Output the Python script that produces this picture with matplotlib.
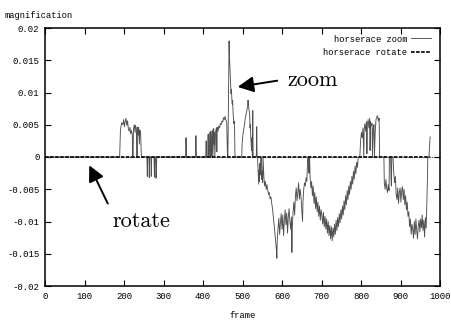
import matplotlib
matplotlib.use('Agg')
import matplotlib.pyplot as plt

# horserace zoom: (frame, magnification); zero stretches only need their ends
frame = [0, 188,
         189, 191, 194, 197, 199, 201, 203, 205, 207, 209, 211, 213, 215, 217, 219, 221, 222, 223,
         224, 226, 228, 229, 231, 232, 233, 234, 236, 237, 239, 240, 242, 244,
         258, 259, 260, 263, 264, 265, 268, 269, 270, 276, 277, 278, 280, 281, 282, 283,
         356, 357, 358, 359, 381, 382, 383, 384,
         407, 408, 409, 412, 413, 414, 416, 417, 419, 420, 421, 422, 424, 425, 427, 428, 429, 430,
         432, 434, 435, 436, 438, 440, 442, 444, 446, 448, 450, 452, 454, 456, 458, 460, 462, 463,
         464, 466, 467, 468, 469, 470, 471, 472, 473, 474, 475, 476, 477, 478, 479, 480, 481,
         498, 499, 501, 503, 505, 507, 509, 511, 513, 514, 516, 518, 519, 520, 521, 523, 524, 525,
         526, 527, 535, 536, 537,
         538, 540, 541, 542, 543, 544, 545, 546, 548, 549, 550, 551, 552, 554, 556, 558, 560, 562,
         564, 566, 568, 570, 572, 574, 576, 578, 580, 582, 584, 586, 587, 588, 590, 592, 594, 596,
         598, 600, 602, 604, 606, 608, 610, 612, 614, 616, 618, 620, 622, 624, 625, 626, 628, 630,
         632, 634, 636, 638, 640, 642, 644, 646, 648, 650, 652, 653, 655, 657, 659, 661, 663, 664,
         665, 667, 668, 669, 670, 671, 673, 675, 677, 679, 681, 683, 685, 687, 689, 691, 693, 695,
         697, 699, 701, 703, 705, 707, 709, 711, 713, 715, 717, 719, 721, 723, 725, 727, 729, 731,
         733, 735, 737, 739, 741, 743, 745, 747, 749, 751, 753, 755, 757, 759, 761, 763, 765, 767,
         769, 771, 773, 775, 777, 779, 781, 783, 785, 787, 789, 791, 793,
         797, 799, 801, 803, 805, 807, 808, 810, 812, 814, 815, 816, 818, 820, 822, 823, 824, 826,
         828, 829, 831, 833, 834, 836, 838, 840, 842, 844, 846, 847,
         858, 859, 861, 863, 865, 867, 869, 871, 872, 875, 876, 877, 878,
         881, 883, 885, 887, 889, 891, 893, 895, 897, 899, 901, 903, 905, 907, 909, 911, 913, 915,
         917, 919, 921, 923, 925, 927, 929, 931, 933, 935, 937, 939, 941, 943, 945, 947, 949, 951,
         953, 955, 957, 959, 961, 963, 965, 966, 968, 969, 972, 975]
zoom = [0, 0,
        0, 0.0042, 0.0053, 0.0050, 0.0058, 0.0047, 0.0055, 0.0060, 0.0049, 0.0056, 0.0044, 0.0040, 0.0046, 0.0036, 0.0041, 0.0034, 0, 0,
        0.0044, 0.0050, 0.0038, 0.0049, 0.0045, 0.0030, 0, 0.0046, 0.0034, 0.0046, 0.0020, 0.0042, 0.0038, 0,
        0, -0.0030, 0, 0, -0.0032, 0, 0, -0.0030, 0, 0, -0.0031, 0, 0, -0.0033, -0.0020, 0,
        0, 0.0030, 0.0005, 0, 0, 0.0033, 0.0008, 0,
        0, 0.0025, 0, 0, 0.0035, 0, 0.0038, 0, 0, 0.0040, 0.0012, 0, 0.0042, 0, 0.0044, 0.0020, 0.0038, 0,
        0.0040, 0.0045, 0.0008, 0.0046, 0.0040, 0.0048, 0.0045, 0.0052, 0.0050, 0.0056, 0.0054, 0.0061, 0.0058, 0.0063, 0.0057, 0.0054, 0, 0,
        0.0060, 0.0180, 0.0155, 0.0140, 0.0125, 0.0110, 0.0098, 0.0105, 0.0090, 0.0082, 0.0088, 0.0070, 0.0060, 0.0052, 0.0055, 0.0040, 0,
        0, 0.0020, 0.0035, 0.0042, 0.0050, 0.0060, 0.0066, 0.0072, 0.0080, 0.0088, 0.0075, 0.0068, 0.0045, 0.0050, 0.0030, 0.0010, 0.0030, 0,
        0.0072, 0, 0, 0.0047, 0,
        0, -0.0030, -0.0042, -0.0020, -0.0038, -0.0010, -0.0028, 0, 0, -0.0035, -0.0022, -0.0040, 0, -0.0030, -0.0045, -0.0038, -0.0050, -0.0043,
        -0.0052, -0.0058, -0.0055, -0.0065, -0.0062, -0.0072, -0.0080, -0.0092, -0.0105, -0.0118, -0.0130, -0.0145, -0.0157, -0.0128, -0.0110, -0.0095, -0.0120, -0.0102,
        -0.0088, -0.0112, -0.0090, -0.0122, -0.0098, -0.0082, -0.0105, -0.0087, -0.0118, -0.0092, -0.0080, -0.0100, -0.0112, -0.0093, -0.0148, -0.0110, -0.0085, -0.0070,
        -0.0090, -0.0060, -0.0048, -0.0068, -0.0055, -0.0040, -0.0065, -0.0050, -0.0062, -0.0080, -0.0100, -0.0070, -0.0050, -0.0040, -0.0045, -0.0032, -0.0038, -0.0020,
        0, 0, -0.0025, 0, 0, -0.0030, -0.0048, -0.0038, -0.0060, -0.0045, -0.0072, -0.0055, -0.0080, -0.0062, -0.0085, -0.0070, -0.0092, -0.0076,
        -0.0098, -0.0082, -0.0090, -0.0104, -0.0086, -0.0108, -0.0092, -0.0112, -0.0096, -0.0118, -0.0100, -0.0122, -0.0106, -0.0127, -0.0108, -0.0130, -0.0110, -0.0124,
        -0.0104, -0.0120, -0.0098, -0.0114, -0.0094, -0.0108, -0.0088, -0.0102, -0.0082, -0.0096, -0.0076, -0.0090, -0.0068, -0.0082, -0.0060, -0.0074, -0.0052, -0.0066,
        -0.0045, -0.0058, -0.0038, -0.0050, -0.0030, -0.0042, -0.0022, -0.0034, -0.0014, -0.0026, -0.0008, -0.0016, 0,
        0, 0.0025, 0.0038, 0.0030, 0.0045, 0, 0.0042, 0.0052, 0.0040, 0.0055, 0.0005, 0.0050, 0.0058, 0.0045, 0.0060, 0.0010, 0.0055, 0.0048,
        0.0052, 0, 0.0045, 0.0050, 0, 0.0040, 0.0058, 0.0062, 0.0064, 0.0056, 0.0060, 0,
        0, -0.0040, -0.0050, -0.0035, -0.0048, -0.0055, -0.0043, -0.0052, 0, 0, -0.0035, -0.0045, 0,
        0, -0.0025, -0.0040, -0.0030, -0.0058, -0.0066, -0.0048, -0.0072, -0.0055, -0.0048, -0.0070, -0.0052, -0.0046, -0.0066, -0.0050, -0.0074, -0.0060, -0.0082,
        -0.0070, -0.0092, -0.0085, -0.0108, -0.0096, -0.0120, -0.0104, -0.0112, -0.0126, -0.0100, -0.0120, -0.0096, -0.0114, -0.0127, -0.0106, -0.0098, -0.0116, -0.0096,
        -0.0110, -0.0090, -0.0114, -0.0098, -0.0124, -0.0094, -0.0110, -0.0086, -0.0040, 0, 0, 0.0031]

# horserace rotate stays at zero
rot_frame = [0, 975]
rotate = [0, 0]

xticks = [0, 100, 200, 300, 400, 500, 600, 700, 800, 900, 1000]
yticks = [0.02, 0.015, 0.01, 0.005, 0, -0.005, -0.01, -0.015, -0.02]
ylabels = ['0.02', '0.015', '0.01', '0.005', '0', '-0.005', '-0.01', '-0.015', '-0.02']

mono = 'Liberation Mono'
fig = plt.figure(figsize=(4.51, 3.22), dpi=100)
ax = fig.add_axes([45 / 451, 36 / 322, 395 / 451, 258 / 322])

ax.axhline(0, color='#444444', lw=0.8, ls=(0, (1, 1)), zorder=1)
ax.plot(frame, zoom, color='#505050', lw=0.65, label='horserace zoom', zorder=2)
ax.plot(rot_frame, rotate, color='#111111', lw=1.3, ls=(0, (2, 0.8)), label='horserace rotate', zorder=3)

ax.set_xlim(0, 1000)
ax.set_ylim(-0.02, 0.02)
ax.set_xticks(xticks)
ax.set_xticklabels([str(t) for t in xticks])
ax.set_yticks(yticks)
ax.set_yticklabels(ylabels)
ax.tick_params(direction='in', top=True, right=True, length=4, width=0.8, labelsize=6.5, pad=4)
for lab in ax.get_xticklabels() + ax.get_yticklabels():
    lab.set_family(mono)
for s in ax.spines.values():
    s.set_linewidth(1.1)

leg = ax.legend(loc='upper right', bbox_to_anchor=(0.99, 0.995), frameon=False, markerfirst=False,
                prop={'family': mono, 'size': 6.3}, handlelength=2.3, handletextpad=0.4,
                labelspacing=0.55, borderaxespad=0.2)

fig.text(5 / 451, 1 - 15 / 322, 'magnification', family=mono, fontsize=6.3, va='center', ha='left')
fig.text(243 / 451, 1 - 316 / 322, 'frame', family=mono, fontsize=6.3, va='center', ha='center')

# arrows and serif labels
ax.annotate('', xy=(481, 0.0108), xytext=(595, 0.0119),
            arrowprops=dict(arrowstyle='-|>', color='black', lw=1.4, mutation_scale=24))
ax.text(615, 0.0119, 'zoom', family='cmr10', fontsize=16, va='center', ha='left')
ax.annotate('', xy=(109, -0.0009), xytext=(162, -0.0076),
            arrowprops=dict(arrowstyle='-|>', color='black', lw=1.4, mutation_scale=24))
ax.text(170, -0.0099, 'rotate', family='cmr10', fontsize=16, va='center', ha='left')

fig.savefig('out.png', dpi=100)
